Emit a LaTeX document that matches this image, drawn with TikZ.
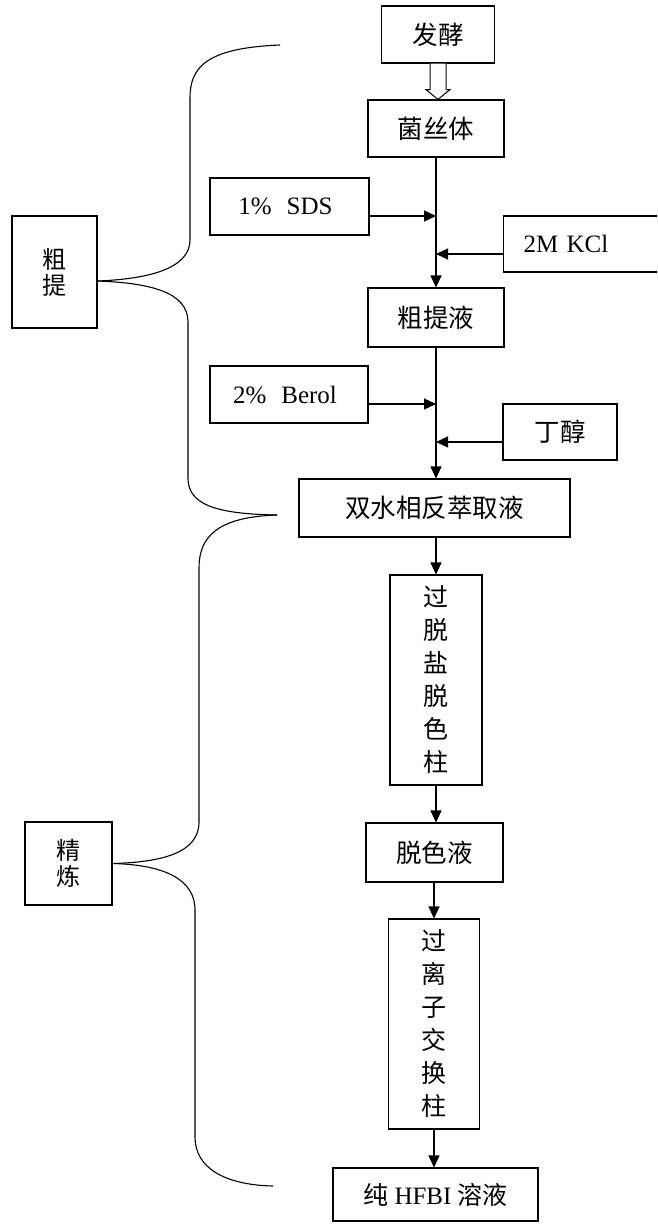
\documentclass[tikz,border=0pt]{standalone}
\usepackage{fontspec}
\setmainfont{Liberation Serif}
\newfontfamily\cjk{Noto Sans CJK SC}
\usetikzlibrary{arrows.meta,calc}
\begin{document}
\begin{tikzpicture}[x=1pt,y=-1pt]
\tikzset{
  bx/.style={draw, line width=1.1pt, inner sep=0pt},
  zh/.style={font=\cjk\fontsize{25.5}{28}\selectfont},
  vt/.style={font=\cjk\fontsize{25}{33}\selectfont, align=center},
  sidezh/.style={font=\cjk\fontsize{24}{26}\selectfont, align=center},
  en/.style={font=\fontsize{25}{28}\selectfont},
  flow/.style={line width=1.1pt, -{Triangle[length=12pt,width=11pt]}},
  hollow/.style={line width=1pt, fill=white, line join=miter},
  brace/.style={line width=1.1pt}
}
\useasboundingbox (0,0) rectangle (657,1225);
\fill[white] (0,0) rectangle (657,1225);
\clip (0,0) rectangle (657,1225);

% main column
\node[bx,zh,minimum width=113pt,minimum height=57pt] (fa) at (438,34.5) {发酵};
\node[bx,zh,minimum width=136pt,minimum height=57pt] (jst) at (436,128.5) {菌丝体};
\node[bx,zh,minimum width=136pt,minimum height=59pt] (ctl) at (436,317.5) {粗提液};
\node[bx,zh,minimum width=271pt,minimum height=58pt] (sx) at (434.5,508) {双水相反萃取液};
\node[bx,vt,minimum width=92pt,minimum height=210pt] (tsj) at (436,680) {过\\脱\\盐\\脱\\色\\柱};
\node[bx,zh,minimum width=137pt,minimum height=59pt] (tsy) at (434.5,852.5) {脱色液};
\node[bx,vt,minimum width=91pt,minimum height=210pt] (lz) at (434,1024) {过\\离\\子\\交\\换\\柱};
\node[bx,en,minimum width=205pt,minimum height=53pt] (hf) at (435.5,1194.5) {{\cjk 纯} HFBI {\cjk 溶液}};

% side inputs
\node[bx,en,minimum width=159pt,minimum height=57pt] (sds) at (289.5,206.5) {\hspace{-8pt}1\%\hspace{0.6em}SDS};
\node[bx,en,anchor=west,minimum height=56pt,text width=140pt,inner xsep=20pt,align=left] (kcl) at (503,244) {2M KCl};
\node[bx,en,minimum width=158pt,minimum height=57pt] (berol) at (289,394.5) {\hspace{-8pt}2\%\hspace{0.6em}Berol};
\node[bx,zh,minimum width=114pt,minimum height=56pt] (dc) at (560,432) {丁醇};

% stage labels
\node[bx,sidezh,minimum width=85pt,minimum height=112pt] (ct) at (54.5,272) {粗\\提};
\node[bx,sidezh,minimum width=87pt,minimum height=83pt] (jl) at (68.5,863.5) {精\\炼};

% hollow arrow
\coordinate (ht) at (fa.south |- jst.north);
\draw[hollow] ($(fa.south)+(-8,0)$) -- ($(fa.south)+(-8,26)$) -- ($(fa.south)+(-12,26)$)
  -- (ht) -- ($(fa.south)+(12,26)$) -- ($(fa.south)+(8,26)$) -- ($(fa.south)+(8,0)$);

% main flow
\draw[flow] (jst.south) -- (jst.south |- ctl.north);
\draw[flow] (ctl.south) -- (ctl.south |- sx.north);
\draw[flow] (tsj.north |- sx.south) -- (tsj.north);
\draw[flow] (tsj.south) -- (tsj.south |- tsy.north);
\draw[flow] (tsy.south -| lz.north) -- (lz.north);
\draw[flow] (lz.south) -- (lz.south |- hf.north);

% side arrows
\coordinate (s1) at ([yshift=-9.5pt]sds.east);
\draw[flow] (s1) -- (s1 -| jst.south);
\coordinate (k1) at ([yshift=-10pt]kcl.west);
\draw[flow] (k1) -- (k1 -| jst.south);
\coordinate (b1) at ([yshift=-9.5pt]berol.east);
\draw[flow] (b1) -- (b1 -| ctl.south);
\coordinate (d1) at ([yshift=-10pt]dc.west);
\draw[flow] (d1) -- (d1 -| ctl.south);

% braces
\coordinate (ut) at (280,45);
\coordinate (mid) at (277,515);
\coordinate (lb) at (273,1186);
\coordinate (tip1) at (ct.east |- 0,281);
\coordinate (tip2) at ([xshift=1pt]jl.east);
\draw[brace] (ut) .. controls (205,48) and (190,68) .. (190,98) -- (190,240)
  .. controls (190,268) and (150,279) .. (tip1);
\draw[brace] (tip1) .. controls (150,283) and (188,292) .. (188,322) -- (188,478)
  .. controls (188,503) and (212,514) .. (mid);
\draw[brace] (mid) .. controls (217,517) and (199,537) .. (199,568) -- (199,822)
  .. controls (199,853) and (162,862) .. (tip2);
\draw[brace] (tip2) .. controls (162,865) and (195,878) .. (195,910) -- (195,1137)
  .. controls (195,1168) and (225,1185) .. (lb);
\end{tikzpicture}
\end{document}
